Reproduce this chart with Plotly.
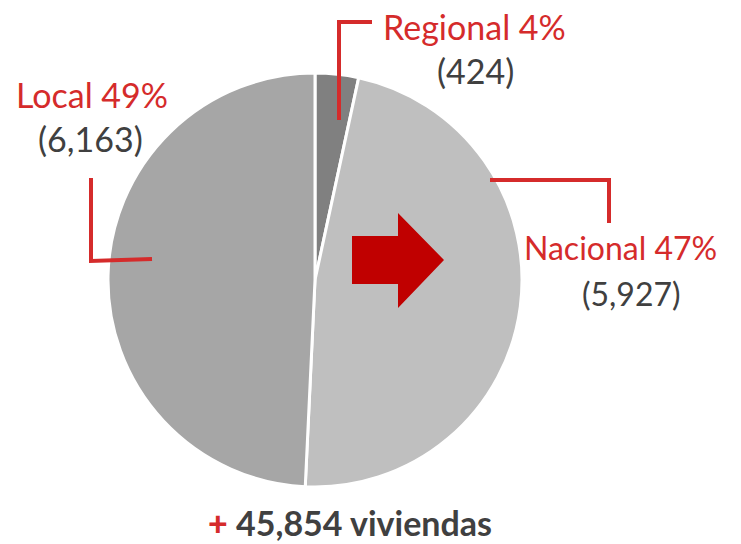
import plotly.graph_objects as go

W, H = 741, 544
categories = ["Regional", "Nacional", "Local"]
values = [424, 5927, 6163]
percents = ["4%", "47%", "49%"]
counts = ["(424)", "(5,927)", "(6,163)"]
total_label = "45,854 viviendas"
colors = ["#808080", "#bfbfbf", "#a6a6a6"]

RED = "#d52b2b"
GRAY = "#404040"
FONT = "Lato, Carlito, sans-serif"


def px(x):
    return x / W


def py(y):
    return 1 - y / H


fig = go.Figure(go.Pie(
    labels=categories, values=values, sort=False, direction="clockwise",
    rotation=0, textinfo="none", hoverinfo="none",
    marker=dict(colors=colors, line=dict(color="white", width=3)),
    domain=dict(x=[px(108), px(522)], y=[py(487), py(73)]),
    showlegend=False,
))

shapes = []
# leader lines
lines = [
    [(339, 120), (339, 22), (372, 22)],
    [(490, 180), (609, 180), (609, 223)],
    [(91, 178), (91, 261), (152, 259)],
]
for pts in lines:
    path = "M " + " L ".join(f"{px(x)},{py(y)}" for x, y in pts)
    shapes.append(dict(type="path", xref="paper", yref="paper", path=path,
                       line=dict(color=RED, width=4)))
# arrow
arrow = [(352, 236), (398, 236), (398, 213), (444, 260), (398, 308), (398, 284), (352, 284)]
shapes.append(dict(type="path", xref="paper", yref="paper",
                   path="M " + " L ".join(f"{px(x)},{py(y)}" for x, y in arrow) + " Z",
                   fillcolor="#c00000", line=dict(width=0)))

label_pos = [((474, 26), (475, 71)), ((620, 247), (631, 293)), ((92, 95), (90, 138))]
label_sizes = [34, 32, 34]
annotations = []
for cat, pct, cnt, (p1, p2), fs in zip(categories, percents, counts, label_pos, label_sizes):
    annotations.append(dict(x=px(p1[0]), y=py(p1[1]), xref="paper", yref="paper",
                            text=f"{cat} {pct}", showarrow=False,
                            font=dict(family=FONT, size=fs, color=RED),
                            xanchor="center", yanchor="middle"))
    annotations.append(dict(x=px(p2[0]), y=py(p2[1]), xref="paper", yref="paper",
                            text=cnt, showarrow=False,
                            font=dict(family=FONT, size=fs, color=GRAY),
                            xanchor="center", yanchor="middle"))
annotations.append(dict(x=px(350), y=py(522), xref="paper", yref="paper",
                        text=f"<span style='color:{RED};font-weight:900'>+</span> {total_label}",
                        showarrow=False,
                        font=dict(family=FONT, size=34, color=GRAY, weight="bold"),
                        xanchor="center", yanchor="middle"))

fig.update_layout(width=W, height=H, margin=dict(l=0, r=0, t=0, b=0),
                  paper_bgcolor="white", plot_bgcolor="white",
                  shapes=shapes, annotations=annotations)
fig.write_html("out.html", config={"displayModeBar": False},
               post_script="document.body.style.margin='0';document.body.style.padding='0';")
